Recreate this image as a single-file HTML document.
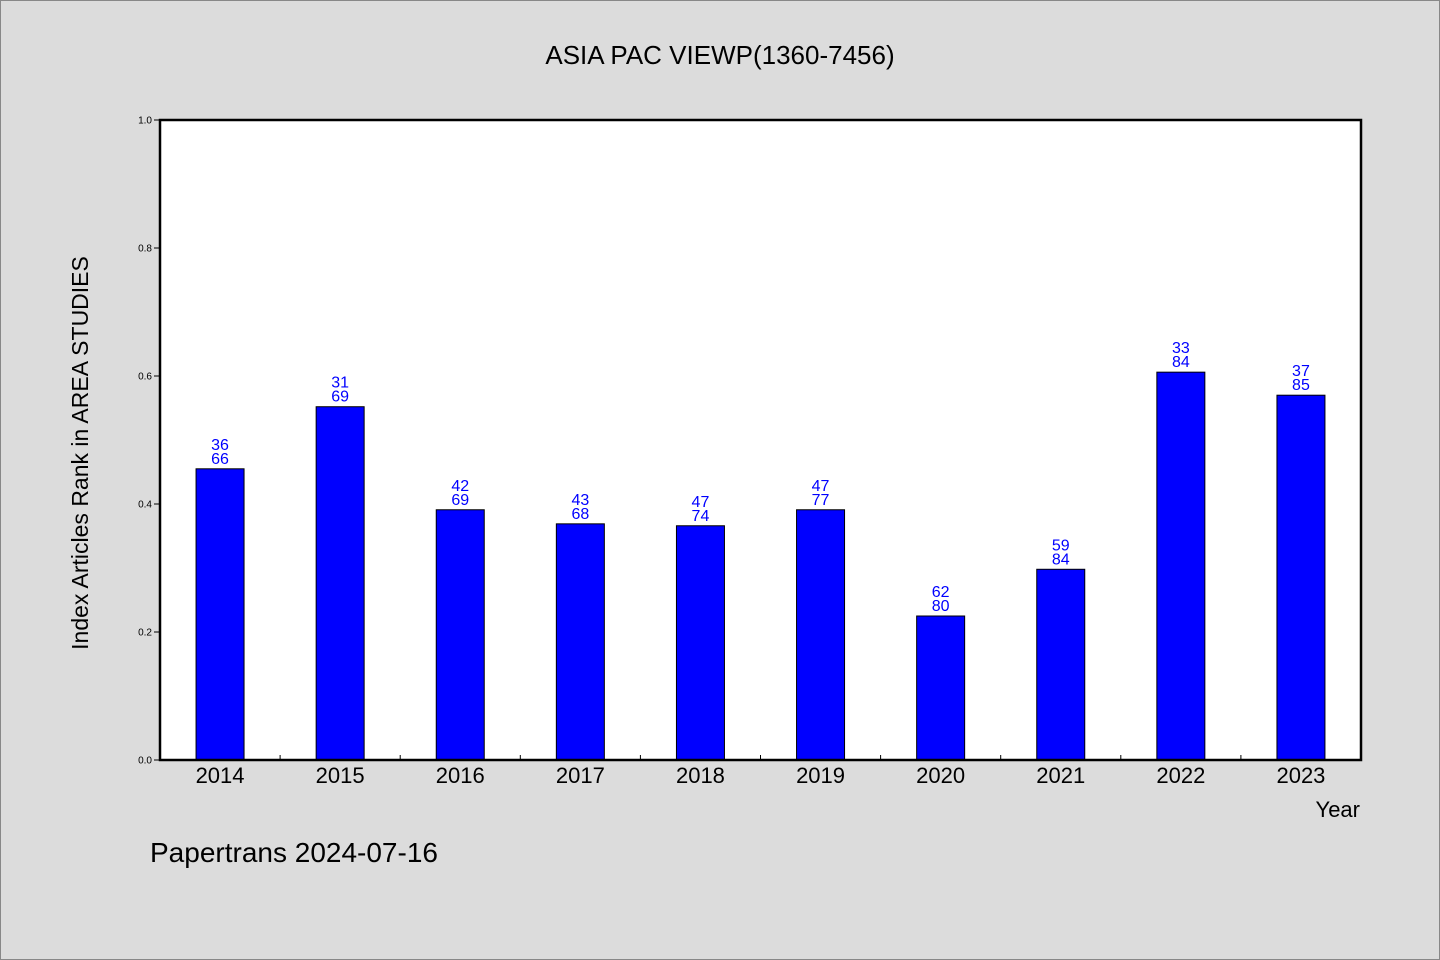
<!DOCTYPE html>
<html><head><meta charset="utf-8"><style>
body{margin:0;background:#dcdcdc;}
svg{display:block;font-family:"WenQuanYi Zen Hei","Liberation Sans",sans-serif;}
</style></head><body>
<svg id="chart" width="1440" height="960" viewBox="0 0 1440 960">
<rect x="0.5" y="0.5" width="1439" height="959" fill="#dcdcdc" stroke="#888"/>
<text x="720" y="64" text-anchor="middle" font-size="26">ASIA PAC VIEWP(1360-7456)</text>
<rect x="160" y="120" width="1201" height="640" fill="#fff"/>
<g id="bars"></g>
<g id="yaxis"></g>
<g id="xaxis"></g>
<rect x="160" y="120" width="1201" height="640" fill="none" stroke="#000" stroke-width="2.5"/>
<text transform="translate(88,453) rotate(-90)" text-anchor="middle" font-size="23">Index Articles Rank in AREA STUDIES</text>
<text x="1360" y="817" text-anchor="end" font-size="22">Year</text>
<text x="150" y="862" font-size="28">Papertrans 2024-07-16</text>
</svg>
<script>
const categories=["2014","2015","2016","2017","2018","2019","2020","2021","2022","2023"];
const values=[0.455,0.552,0.391,0.369,0.366,0.391,0.225,0.298,0.606,0.570];
const ranks=["36","31","42","43","47","47","62","59","33","37"];
const totals=["66","69","69","68","74","77","80","84","84","85"];
const yTicks=["0.0","0.2","0.4","0.6","0.8","1.0"];
const NS="http://www.w3.org/2000/svg";
const x0=160,w=1201,yb=760,h=640;
const band=w/categories.length;
const xs=i=>x0+band*(i+0.5);
const ys=v=>yb-v*h;
function mk(t,a,p){const e=document.createElementNS(NS,t);for(const k in a)e.setAttribute(k,a[k]);p.appendChild(e);return e;}
const gb=document.getElementById('bars'),gy=document.getElementById('yaxis'),gx=document.getElementById('xaxis');
categories.forEach((c,i)=>{
 const cx=xs(i),top=ys(values[i]);
 const r=mk('rect',{x:cx-24,y:top,width:48,height:yb-top,fill:'#0000ff',stroke:'#000','stroke-width':1},gb);
 
 
 const t1=mk('text',{x:cx,y:top-19,'text-anchor':'middle','font-size':16,fill:'#0000ff'},gb);
 t1.textContent=ranks[i];
 
 
 const t2=mk('text',{x:cx,y:top-5,'text-anchor':'middle','font-size':16,fill:'#0000ff'},gb);
 t2.textContent=totals[i];
 
 
 const lt=mk('text',{x:cx,y:783,'text-anchor':'middle','font-size':22},gx);
 lt.textContent=c;
 
 
 if(i>0){const tk=mk('line',{x1:x0+band*i,x2:x0+band*i,y1:yb,y2:yb-5,stroke:'#000'},gx);
 
 }
});
yTicks.forEach(t=>{
 const y=ys(parseFloat(t));
 const l=mk('line',{x1:x0-6,x2:x0,y1:y,y2:y,stroke:'#000'},gy);
 
 
 const tx=mk('text',{x:152,y:y+3.5,'text-anchor':'end','font-size':10},gy);
 tx.textContent=t;
 
 
});
</script>
</body></html>
